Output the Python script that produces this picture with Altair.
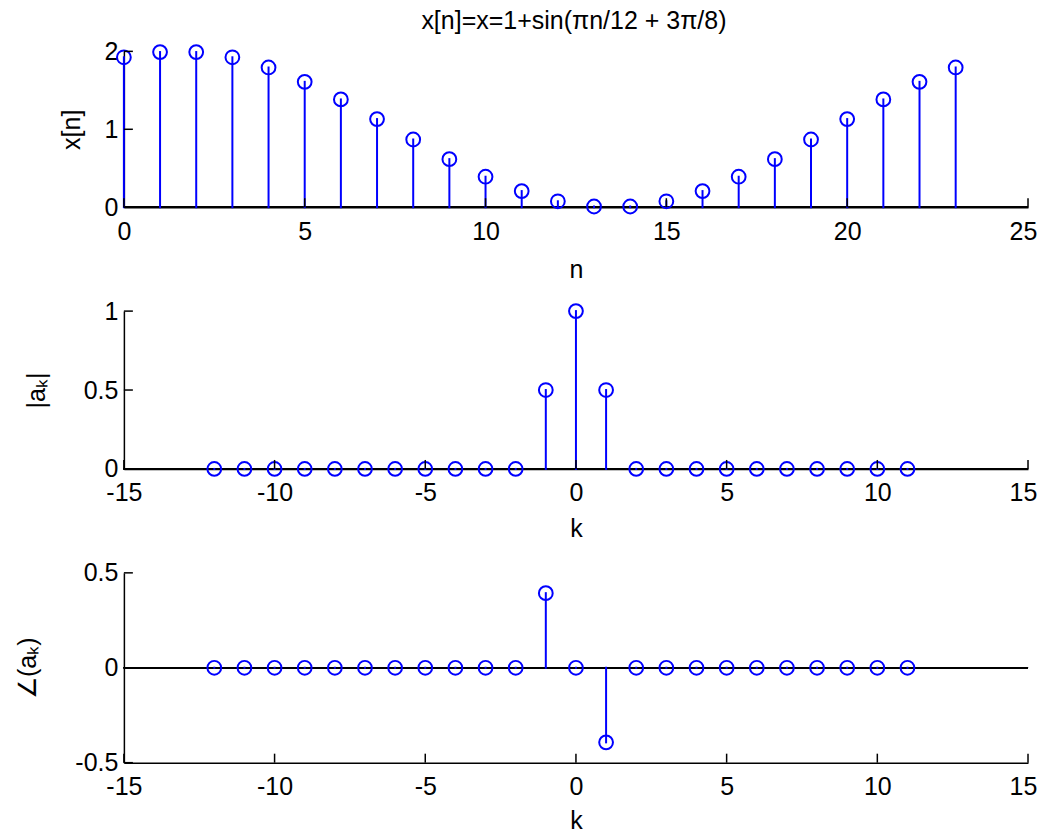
import altair as alt
import pandas as pd

# ---- data ----
n_vals = list(range(0, 24))
x_vals = [1.924, 1.991, 1.991, 1.924, 1.793, 1.609, 1.383, 1.131,
          0.869, 0.617, 0.391, 0.207, 0.076, 0.009, 0.009, 0.076,
          0.207, 0.391, 0.617, 0.869, 1.131, 1.383, 1.609, 1.793]

k_vals = list(range(-12, 12))
mag_vals = [0, 0, 0, 0, 0, 0, 0, 0, 0, 0, 0, 0.5,
            1.0, 0.5, 0, 0, 0, 0, 0, 0, 0, 0, 0, 0]
phase_vals = [0, 0, 0, 0, 0, 0, 0, 0, 0, 0, 0, 0.393,
              0, -0.393, 0, 0, 0, 0, 0, 0, 0, 0, 0, 0]

n_ticks = [0, 5, 10, 15, 20, 25]
k_ticks = [-15, -10, -5, 0, 5, 10, 15]
x_yticks = [0, 1, 2]
mag_yticks = [0, 0.5, 1]
phase_yticks = [-0.5, 0, 0.5]

title_text = "x[n]=x=1+sin(\u03c0n/12 + 3\u03c0/8)"

FONT = "Liberation Sans"
FS = 25
BLUE = "#0000ff"
W = 905


def panel(xs, ys, xname, yname, xdom, ydom, xticks, yticks, h,
          xtitle, ytitle, ytitle_x, xtitle_y, title=None):
    df = pd.DataFrame({xname: xs, yname: ys})
    xt = pd.DataFrame({xname: xticks})
    yt = pd.DataFrame({yname: yticks})

    xscale = alt.Scale(domain=xdom, nice=False, zero=False)
    yscale = alt.Scale(domain=ydom, nice=False, zero=False)

    last = xticks[-1]
    xaxis = alt.Axis(values=xticks, tickSize=0, grid=False, domainColor="black",
                     domainWidth=1.5, labelFont=FONT, labelFontSize=FS,
                     labelColor="black", labelPadding=24, labelBaseline="middle",
                     labelFlush=False, labelOverlap=False,
                     labelOffset={"condition": {"test": f"datum.value == {last}", "value": -5},
                                  "value": 0},
                     labelExpr="'' + datum.value",
                     title=xtitle, titleFont=FONT, titleFontSize=FS,
                     titleFontWeight="normal", titleColor="black",
                     titleY=xtitle_y, titleBaseline="middle")
    yaxis = alt.Axis(values=yticks, tickSize=0, grid=False, domainColor="black",
                     domainWidth=1.5, labelFont=FONT, labelFontSize=FS,
                     labelColor="black", labelPadding=6,
                     labelFlush=False, labelOverlap=False,
                     labelExpr="'' + datum.value",
                     title=ytitle, titleFont=FONT, titleFontSize=FS,
                     titleFontWeight="normal", titleColor="black",
                     titleX=ytitle_x, titleY=h / 2, titleBaseline="middle",
                     titleAlign="center", titleAngle=270)

    base_line = alt.Chart(df).mark_rule(color="black", strokeWidth=1.5).encode(
        x=alt.value(0), x2=alt.value(W), y=alt.datum(0, scale=yscale))

    stems = alt.Chart(df).mark_rule(color=BLUE, strokeWidth=2, strokeCap="square").encode(
        x=alt.X(f"{xname}:Q", scale=xscale, axis=xaxis),
        y=alt.Y(f"{yname}:Q", scale=yscale, axis=yaxis),
        y2=alt.datum(0),
    )
    circles = alt.Chart(df).mark_point(shape="circle", filled=False, size=190,
                                       strokeWidth=2, color=BLUE, opacity=1).encode(
        x=alt.X(f"{xname}:Q"),
        y=alt.Y(f"{yname}:Q"),
    )
    xtick_rules = alt.Chart(xt).mark_rule(color="black", strokeWidth=1.5).encode(
        x=alt.X(f"{xname}:Q"), y=alt.value(h), y2=alt.value(h - 9))
    ytick_rules = alt.Chart(yt).mark_rule(color="black", strokeWidth=1.5).encode(
        y=alt.Y(f"{yname}:Q"), x=alt.value(0), x2=alt.value(9))

    layers = [base_line, stems, circles, xtick_rules, ytick_rules]
    if title is not None:
        tdf = pd.DataFrame({"t": [title]})
        layers.append(
            alt.Chart(tdf).mark_text(font=FONT, fontSize=FS, color="black",
                                     baseline="middle", align="center").encode(
                text="t:N", x=alt.value(W / 2 - 2), y=alt.value(-30.5))
        )
    return alt.layer(*layers).properties(width=W, height=h)


p1 = panel(n_vals, x_vals, "n", "xn", [0, 25], [0, 2], n_ticks, x_yticks, 156,
           "n", "x[n]", -52, 62, title=title_text)
p2 = panel(k_vals, mag_vals, "k", "mag", [-15, 15], [0, 1], k_ticks, mag_yticks, 158,
           "k", "|a\u2096|", -87, 60)
p3 = panel(k_vals, phase_vals, "k", "ph", [-15, 15], [-0.5, 0.5], k_ticks, phase_yticks, 190,
           "k", "\u2220(a\u2096)", -96, 58)

chart = alt.vconcat(p1, p2, p3, spacing=104, bounds="flush").properties(
    padding={"left": 8, "top": 0, "right": 0, "bottom": 0}
).configure(background="white", view=alt.ViewConfig(strokeWidth=0))

chart.save("out.html", embed_options={"renderer": "svg", "actions": False})
